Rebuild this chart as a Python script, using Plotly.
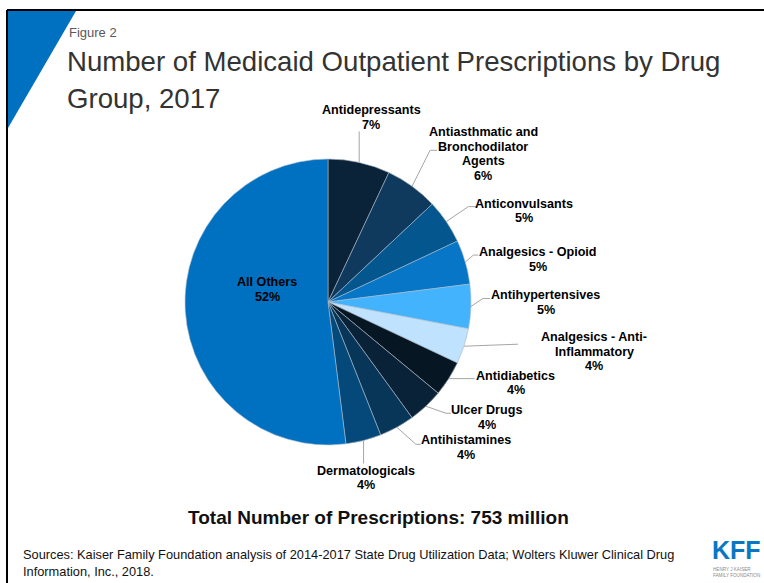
import numpy as np
import plotly.graph_objects as go

# Canvas size in pixels (margins are zero, so paper == full page)
W, H = 764, 583

# ---- Data -------------------------------------------------------------
drug_groups = [
    "Antidepressants",
    "Antiasthmatic and Bronchodilator Agents",
    "Anticonvulsants",
    "Analgesics - Opioid",
    "Antihypertensives",
    "Analgesics - Anti-Inflammatory",
    "Antidiabetics",
    "Ulcer Drugs",
    "Antihistamines",
    "Dermatologicals",
    "All Others",
]
share_pct = [7, 6, 5, 5, 5, 4, 4, 4, 4, 4, 52]
total_prescriptions_millions = 753

# How each group name is wrapped in its data label
label_lines = [
    ["Antidepressants"],
    ["Antiasthmatic and", "Bronchodilator", "Agents"],
    ["Anticonvulsants"],
    ["Analgesics - Opioid"],
    ["Antihypertensives"],
    ["Analgesics - Anti-", "Inflammatory"],
    ["Antidiabetics"],
    ["Ulcer Drugs"],
    ["Antihistamines"],
    ["Dermatologicals"],
    ["All Others"],
]

slice_colors = [
    "#0B2338", "#0F395D", "#04568F", "#0776C6", "#44B3FE",
    "#BFE3FE", "#071623", "#0A2237", "#073659", "#05497B", "#0070C0",
]

# ---- Styling / layout ---------------------------------------------------
FONT = "Liberation Sans, Arial, sans-serif"
CX, CY, R = 328, 302, 143          # pie centre and radius (px)
LINE_GAP = 14.5                    # spacing between label lines (px)
LEADER_COLOR = "#A6A6A6"

# Per-slice label placement, relative to the point where the slice's
# mid-angle meets the rim: leader bends, then first text-line centre.
label_layout = [
    dict(leader=[(0, -31)], text=(12, -52)),
    dict(leader=[(18, -36), (25, -36)], text=(71, -54)),
    dict(leader=[(22, -15), (30, -15)], text=(78, -18)),
    dict(leader=[(8, -7), (13, -7)], text=(73, -10)),
    dict(leader=[(12, -8), (19, -8)], text=(75, -11)),
    dict(leader=[(54, -2)], text=(130, -9)),
    dict(leader=[(26, 0)], text=(67, -3)),
    dict(leader=[(20, 7), (25, 7)], text=(61, 4)),
    dict(leader=[(19, 17), (24, 17)], text=(69, 13)),
    dict(leader=[(0, 23)], text=(2, 30)),
    None,  # "All Others" sits inside its slice
]
inside_offset = (-61, -20)  # label position of the big slice, from centre


def px(x):
    return x / W


def py(y):
    return 1 - y / H


fig = go.Figure()

fig.add_trace(go.Pie(
    labels=drug_groups,
    values=share_pct,
    sort=False,
    direction="clockwise",
    rotation=0,
    marker=dict(colors=slice_colors, line=dict(color="#A9B8C6", width=0.6)),
    textinfo="none",
    hoverinfo="label+percent",
    showlegend=False,
    domain=dict(x=[px(CX - R), px(CX + R)], y=[py(CY + R), py(CY - R)]),
))

# ---- Data labels and leader lines ---------------------------------------
vals = np.array(share_pct, dtype=float)
cum = np.cumsum(vals)
mid_deg = (cum - vals / 2) / vals.sum() * 360.0

shapes = []
annotations = []


def add_label(lines, x0, y0):
    for k, ln in enumerate(lines):
        annotations.append(dict(
            x=px(x0), y=py(y0 + k * LINE_GAP), xref="paper", yref="paper",
            text=f"<b>{ln}</b>", showarrow=False, xanchor="center",
            yanchor="middle", font=dict(family=FONT, size=12.6, color="#000000"),
        ))


for i, (name_lines, v) in enumerate(zip(label_lines, share_pct)):
    text_lines = name_lines + [f"{v}%"]
    lay = label_layout[i]
    if lay is None:
        add_label(text_lines, CX + inside_offset[0], CY + inside_offset[1])
        continue
    a = np.deg2rad(mid_deg[i])
    ax, ay = CX + R * np.sin(a), CY - R * np.cos(a)
    pts = [(ax, ay)] + [(ax + dx, ay + dy) for dx, dy in lay["leader"]]
    path = "M " + " L ".join(f"{px(x):.5f},{py(y):.5f}" for x, y in pts)
    shapes.append(dict(type="path", path=path, xref="paper", yref="paper",
                       line=dict(color=LEADER_COLOR, width=1)))
    add_label(text_lines, ax + lay["text"][0], ay + lay["text"][1])

# ---- Slide frame and corner accent --------------------------------------
shapes.append(dict(type="path", xref="paper", yref="paper",
                   path=f"M {px(8)},{py(11)} L {px(76)},{py(11)} L {px(8)},{py(128)} Z",
                   fillcolor="#0070C0", line=dict(width=0)))
shapes.append(dict(type="line", xref="paper", yref="paper",
                   x0=px(7), x1=1, y0=py(10), y1=py(10),
                   line=dict(color="#000000", width=2)))
shapes.append(dict(type="line", xref="paper", yref="paper",
                   x0=px(7), x1=px(7), y0=py(10), y1=0,
                   line=dict(color="#000000", width=2)))

# ---- Titles and notes -----------------------------------------------------
def add_text(text, x, y, size, color="#000000", xanchor="left", family=FONT,
             yanchor="middle", **extra):
    annotations.append(dict(
        x=px(x), y=py(y), xref="paper", yref="paper", text=text,
        showarrow=False, xanchor=xanchor, yanchor=yanchor,
        font=dict(family=family, size=size, color=color), **extra,
    ))


add_text("Figure 2", 67, 33, 13, "#595959")
add_text("Number of Medicaid Outpatient Prescriptions by Drug", 65, 62, 27.6, "#333333")
add_text("Group, 2017", 65, 98, 27.6, "#333333")
add_text(f"<b>Total Number of Prescriptions: {total_prescriptions_millions} million</b>",
         378, 517, 19, "#111111", xanchor="center")
add_text("Sources: Kaiser Family Foundation analysis of 2014-2017 State Drug Utilization "
         "Data; Wolters Kluwer Clinical Drug", 21, 554, 12.8, "#111111")
add_text("Information, Inc., 2018.", 21, 571, 12.8, "#111111")

# KFF wordmark with its small caption underneath
add_text("<b>KFF</b>", 762, 550, 25, "#0A77C3", xanchor="right", borderpad=0)
add_text("HENRY J KAISER", 712, 569, 4.6, "#8A8A8A", borderpad=0)
add_text("FAMILY FOUNDATION", 712, 575, 4.6, "#8A8A8A", borderpad=0)

fig.update_layout(
    width=W, height=H,
    margin=dict(l=0, r=0, t=0, b=0),
    paper_bgcolor="#FFFFFF",
    plot_bgcolor="#FFFFFF",
    shapes=shapes,
    annotations=annotations,
)

fig.write_html("out.html")
